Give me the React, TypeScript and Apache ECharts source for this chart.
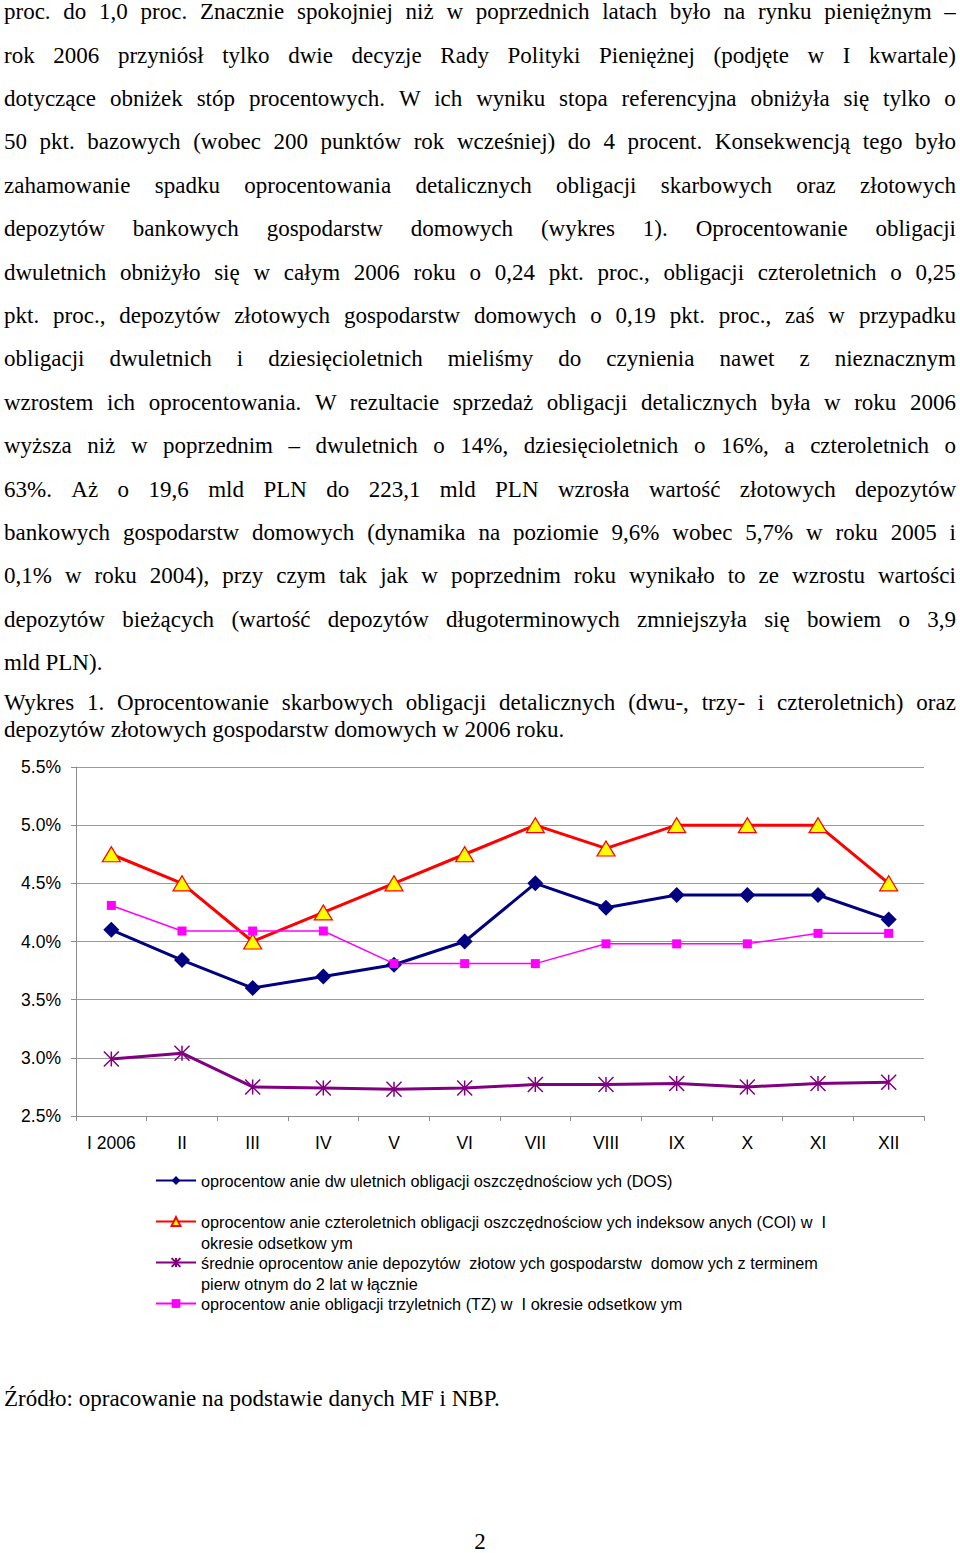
import React, { useEffect, useRef } from "react";
import * as echarts from "echarts";

const months = ["I 2006", "II", "III", "IV", "V", "VI", "VII", "VIII", "IX", "X", "XI", "XII"];
const dosValues = [4.1, 3.84, 3.6, 3.7, 3.8, 4.0, 4.5, 4.29, 4.4, 4.4, 4.4, 4.19];
const coiValues = [4.75, 4.5, 4.0, 4.25, 4.5, 4.75, 5.0, 4.8, 5.0, 5.0, 5.0, 4.5];
const depositValues = [2.99, 3.04, 2.75, 2.74, 2.73, 2.74, 2.77, 2.77, 2.78, 2.75, 2.78, 2.79];
const tzValues = [4.31, 4.09, 4.09, 4.09, 3.81, 3.81, 3.81, 3.98, 3.98, 3.98, 4.07, 4.07];
const yTicks = [2.5, 3.0, 3.5, 4.0, 4.5, 5.0, 5.5];

const seriesNames = [
  "oprocentow anie dw uletnich obligacji oszczędnościow ych (DOS)",
  "oprocentow anie czteroletnich obligacji oszczędnościow ych indeksow anych (COI) w  I",
  "średnie oprocentow anie depozytów  złotow ych gospodarstw  domow ych z terminem",
  "oprocentow anie obligacji trzyletnich (TZ) w  I okresie odsetkow ym",
];
const seriesSecondLines = ["", "okresie odsetkow ym", "pierw otnym do 2 lat w łącznie", ""];

const bodyLines = [
  "proc. do 1,0 proc. Znacznie spokojniej niż w poprzednich latach było na rynku pieniężnym –",
  "rok 2006 przyniósł tylko dwie decyzje Rady Polityki Pieniężnej (podjęte w I kwartale)",
  "dotyczące obniżek stóp procentowych. W ich wyniku stopa referencyjna obniżyła się tylko o",
  "50 pkt. bazowych (wobec 200 punktów rok wcześniej) do 4 procent. Konsekwencją tego było",
  "zahamowanie spadku oprocentowania detalicznych obligacji skarbowych oraz złotowych",
  "depozytów bankowych gospodarstw domowych (wykres 1). Oprocentowanie obligacji",
  "dwuletnich obniżyło się w całym 2006 roku o 0,24 pkt. proc., obligacji czteroletnich o 0,25",
  "pkt. proc., depozytów złotowych gospodarstw domowych o 0,19 pkt. proc., zaś w przypadku",
  "obligacji dwuletnich i dziesięcioletnich mieliśmy do czynienia nawet z nieznacznym",
  "wzrostem ich oprocentowania. W rezultacie sprzedaż obligacji detalicznych była w roku 2006",
  "wyższa niż w poprzednim – dwuletnich o 14%, dziesięcioletnich o 16%, a czteroletnich o",
  "63%. Aż o 19,6 mld PLN do 223,1 mld PLN wzrosła wartość złotowych depozytów",
  "bankowych gospodarstw domowych (dynamika na poziomie 9,6% wobec 5,7% w roku 2005 i",
  "0,1% w roku 2004), przy czym tak jak w poprzednim roku wynikało to ze wzrostu wartości",
  "depozytów bieżących (wartość depozytów długoterminowych zmniejszyła się bowiem o 3,9",
  "mld PLN).",
];
const captionLines = [
  "Wykres 1. Oprocentowanie skarbowych obligacji detalicznych (dwu-, trzy- i czteroletnich) oraz",
  "depozytów złotowych gospodarstw domowych w 2006 roku.",
];
const sourceText = "Źródło: opracowanie na podstawie danych MF i NBP.";
const pageNumber = "2";

const SERIF = "'Liberation Serif', 'Times New Roman', serif";
const SANS = "'Liberation Sans', Arial, sans-serif";

function Line(props: { text: string; baseline: number; justify: boolean }) {
  const { text, baseline, justify } = props;
  const words = text.split(" ");
  const font = { fontFamily: SERIF, fontSize: 23 };
  return (
    <div
      style={{
        position: "absolute",
        left: 4,
        width: 952,
        top: baseline - 21.3,
        height: 27,
        lineHeight: "27px",
        ...font,
        color: "#000",
        display: "flex",
        justifyContent: justify ? "space-between" : "flex-start",
        whiteSpace: "pre",
      }}
    >
      {justify
        ? words.map((w, i) => (
            <span key={i} style={font}>
              {i < words.length - 1 ? w + " " : w}
            </span>
          ))
        : <span style={font}>{text}</span>}
    </div>
  );
}

function Chart() {
  const ref = useRef<HTMLDivElement>(null);
  useEffect(() => {
    if (!ref.current) return;
    const chart = echarts.init(ref.current, null, { renderer: "svg" });
    const asterisk = "path://M0,0L10,10M10,0L0,10M5,0L5,10";
    chart.setOption({
      animation: false,
      backgroundColor: "transparent",
      grid: { left: 76, right: 36, top: 17, height: 349 },
      legend: {
        orient: "vertical",
        left: 155,
        top: 399,
        padding: 0,
        itemWidth: 40,
        itemHeight: 11,
        itemGap: -22,
        selectedMode: false,
        data: seriesNames,
        textStyle: { fontFamily: SANS, fontSize: 16.25, color: "#000", lineHeight: 21 },
        formatter: (name: string) => {
          const i = seriesNames.indexOf(name);
          return "\n" + name + "\n" + seriesSecondLines[i];
        },
      },
      xAxis: {
        type: "category",
        data: months,
        boundaryGap: true,
        axisLine: { lineStyle: { color: "#8c8c8c", width: 1 } },
        axisTick: { show: true, interval: 0, length: 5, lineStyle: { color: "#8c8c8c" } },
        axisLabel: { interval: 0, margin: 18, fontFamily: SANS, fontSize: 17.5, color: "#000" },
        splitLine: { show: false },
      },
      yAxis: {
        type: "value",
        min: yTicks[0],
        max: yTicks[yTicks.length - 1],
        interval: 0.5,
        axisLine: { show: true, lineStyle: { color: "#8c8c8c", width: 1 } },
        axisTick: { show: true, length: 5, lineStyle: { color: "#8c8c8c" } },
        axisLabel: {
          margin: 15,
          fontFamily: SANS,
          fontSize: 17.5,
          color: "#000",
          formatter: (v: number) => v.toFixed(1) + "%",
        },
        splitLine: { show: true, lineStyle: { color: "#9a9a9a", width: 1 } },
      },
      series: [
        {
          name: seriesNames[0],
          type: "line",
          data: dosValues,
          symbol: "diamond",
          symbolSize: 16,
          lineStyle: { color: "#000080", width: 3 },
          itemStyle: { color: "#000080" },
        },
        {
          name: seriesNames[1],
          type: "line",
          data: coiValues,
          symbol: "triangle",
          symbolSize: [18, 15],
          lineStyle: { color: "#ff0000", width: 3 },
          itemStyle: { color: "#ffff00", borderColor: "#ff0000", borderWidth: 1.2 },
        },
        {
          name: seriesNames[2],
          type: "line",
          data: depositValues,
          symbol: asterisk,
          symbolSize: 15,
          lineStyle: { color: "#800080", width: 3 },
          itemStyle: { color: "#800080", borderColor: "#800080", borderWidth: 1.5 },
        },
        {
          name: seriesNames[3],
          type: "line",
          data: tzValues,
          symbol: "rect",
          symbolSize: 9,
          lineStyle: { color: "#ff00ff", width: 1.5 },
          itemStyle: { color: "#ff00ff" },
        },
      ],
    });
    return () => chart.dispose();
  }, []);
  return (
    <div
      ref={ref}
      style={{ position: "absolute", left: 0, top: 750, width: 960, height: 600 }}
    />
  );
}

export default function App() {
  const bodyBase = 19.5;
  const bodyStep = 43.4;
  return (
    <div
      style={{
        position: "absolute",
        left: 0,
        top: 0,
        width: 960,
        height: 1553,
        overflow: "hidden",
        background: "#fff",
      }}
    >
      {bodyLines.map((t, i) => (
        <Line key={"b" + i} text={t} baseline={bodyBase + i * bodyStep} justify={i < bodyLines.length - 1} />
      ))}
      {captionLines.map((t, i) => (
        <Line key={"c" + i} text={t} baseline={710 + i * 27} justify={i < captionLines.length - 1} />
      ))}
      <Line text={sourceText} baseline={1406} justify={false} />
      <div
        style={{
          position: "absolute",
          left: 0,
          width: 960,
          top: 1550 - 17.8,
          height: 20,
          lineHeight: "20px",
          fontFamily: SERIF,
          fontSize: 23,
          textAlign: "center",
          color: "#000",
        }}
      >
        {pageNumber}
      </div>
      <Chart />
    </div>
  );
}
